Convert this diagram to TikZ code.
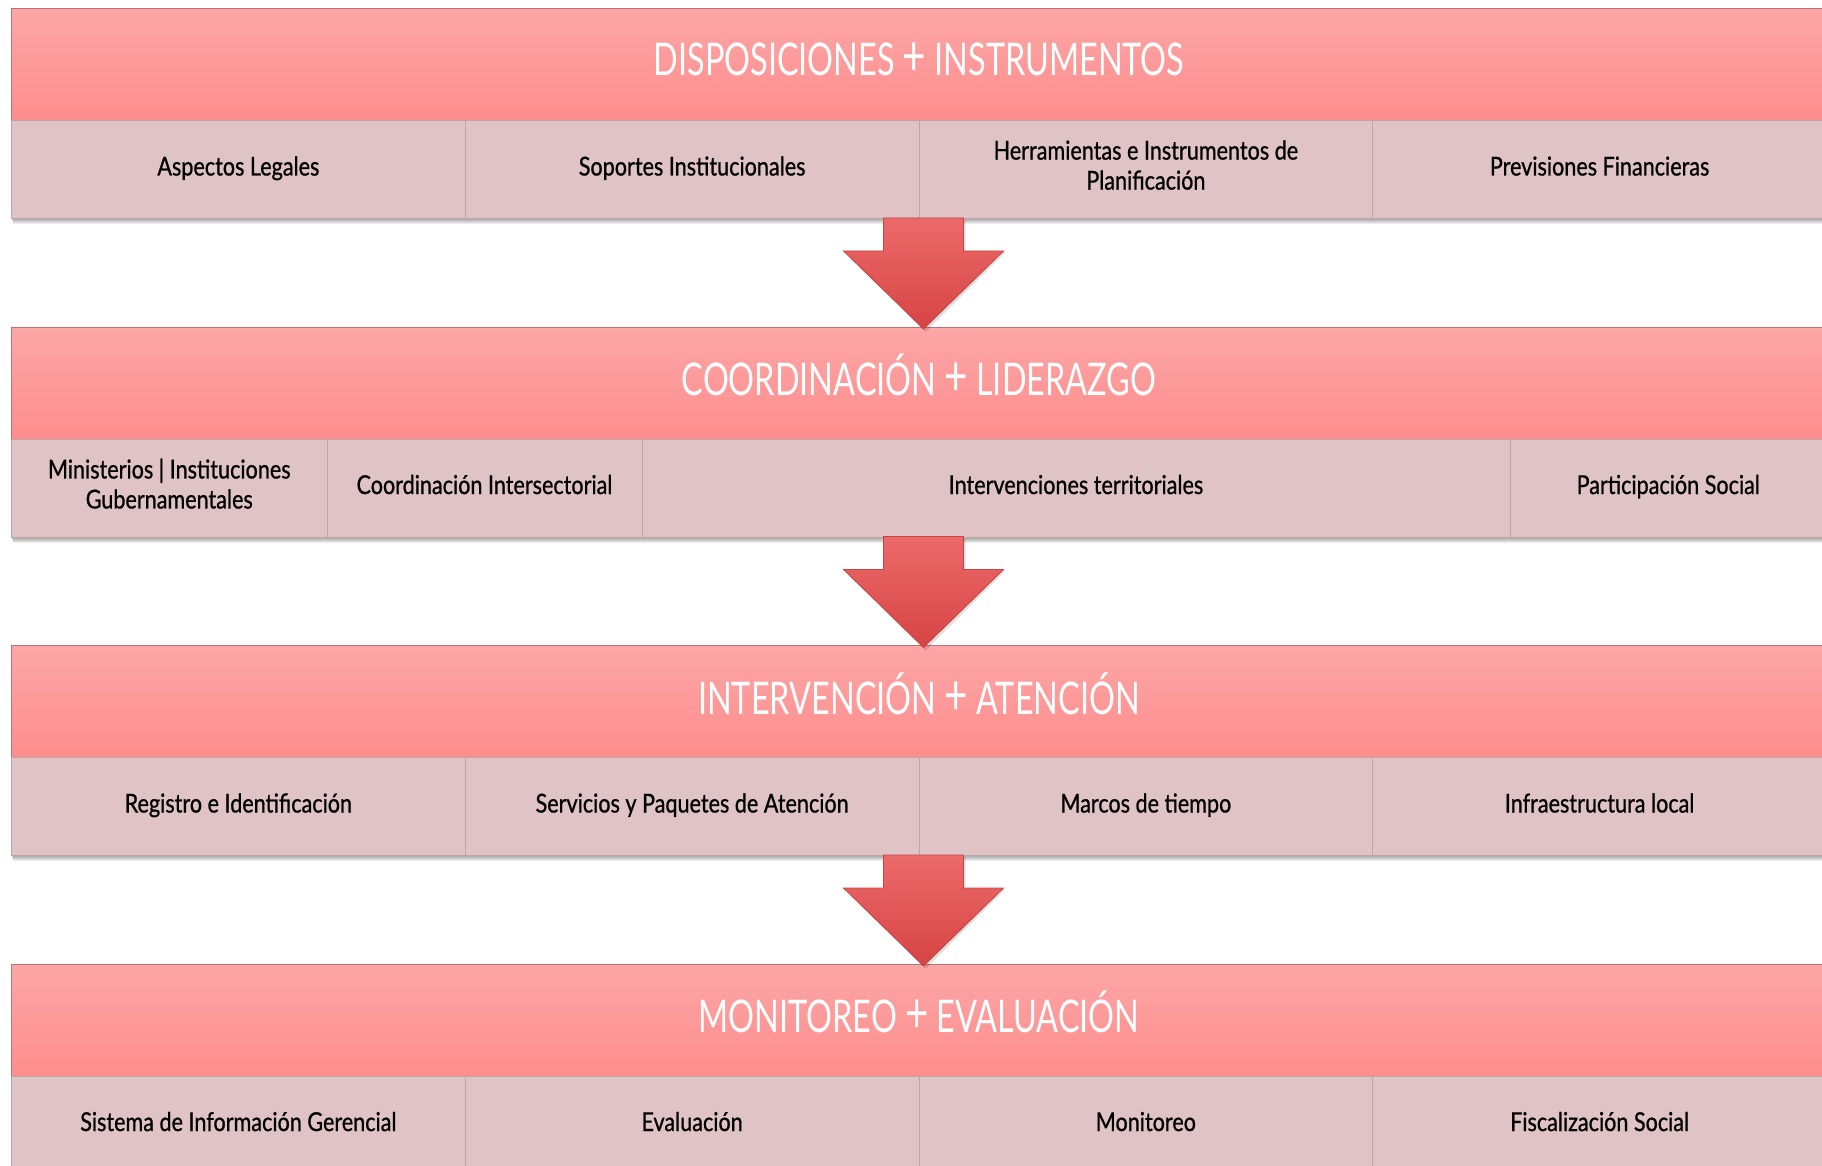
\documentclass[tikz,border=0pt]{standalone}
\usepackage{fontspec}
\setmainfont{Lato}
\newfontfamily\headfont{Lato}[FakeStretch=0.72]
\newfontfamily\subfont{Lato}[FakeStretch=0.83,FakeBold=0.8]
\usetikzlibrary{calc}
\definecolor{hdtop}{RGB}{252,166,166}
\definecolor{hdbot}{RGB}{255,141,141}
\definecolor{hdline}{RGB}{184,116,116}
\definecolor{subfill}{RGB}{224,196,197}
\definecolor{subline}{RGB}{190,166,166}
\definecolor{arrtop}{RGB}{236,106,106}
\definecolor{arrbot}{RGB}{214,68,68}
\definecolor{arrline}{RGB}{196,70,70}
\newcommand{\bigplus}{{\fontsize{56}{56}\selectfont+}}
\tikzset{
  hdbox/.style={rectangle, minimum width=1815pt, minimum height=112pt, inner sep=0pt,
    anchor=north west, top color=hdtop, bottom color=hdbot, draw=hdline, line width=1pt,
    text=white, font=\headfont\fontsize{45}{54}\selectfont,
    execute at begin node=\strut},
  subbox/.style={rectangle, minimum height=98pt, inner sep=0pt, anchor=north west,
    fill=subfill, draw=subline, line width=1pt, align=center, text=black,
    font=\subfont\fontsize{26}{30}\selectfont,
    execute at begin node=\strut, execute at end node=\strut},
  colA/.style={subbox, minimum width=453.75pt},
  blockarrow/.style={top color=arrtop, bottom color=arrbot, draw=arrline, line width=0.8pt, line join=miter},
  bandshade/.style={fill=black, opacity=0.07}
}
\begin{document}
\begin{tikzpicture}[x=1pt,y=-1pt]
\useasboundingbox (0,0) rectangle (1822,1166);
\clip (0,0) rectangle (1822,1166);
% shadows of the bands
\foreach \t in {8,326.5,645,963.5}{
  \foreach \d in {1,2,3,4,5,6}{
    \fill[bandshade] (11+\d*0.3,\t+\d*0.5) rectangle (1826,\t+210+\d);
  }
}
% Band 1
\node[hdbox] (h1) at (11,8) {DISPOSICIONES \bigplus{} INSTRUMENTOS};
\node[colA] (s11) at (11,120) {Aspectos Legales};
\node[colA] (s12) at (464.75,120) {Soportes Institucionales};
\node[colA] (s13) at (918.5,120) {Herramientas e Instrumentos de\\Planificación};
\node[colA] (s14) at (1372.25,120) {Previsiones Financieras};
% Band 2
\node[hdbox] (h2) at (11,326.5) {COORDINACIÓN \bigplus{} LIDERAZGO};
\node[subbox, minimum width=315.5pt] (s21) at (11,438.5) {Ministerios | Instituciones\\Gubernamentales};
\node[subbox, minimum width=315pt] (s22) at (326.5,438.5) {Coordinación Intersectorial};
\node[subbox, minimum width=868pt] (s23) at (641.5,438.5) {Intervenciones territoriales};
\node[subbox, minimum width=316.5pt] (s24) at (1509.5,438.5) {Participación Social};
% Band 3
\node[hdbox] (h3) at (11,645) {INTERVENCIÓN \bigplus{} ATENCIÓN};
\node[colA] (s31) at (11,757) {Registro e Identificación};
\node[colA] (s32) at (464.75,757) {Servicios y Paquetes de Atención};
\node[colA] (s33) at (918.5,757) {Marcos de tiempo};
\node[colA] (s34) at (1372.25,757) {Infraestructura local};
% Band 4
\node[hdbox] (h4) at (11,963.5) {MONITOREO \bigplus{} EVALUACIÓN};
\node[colA] (s41) at (11,1075.5) {Sistema de Información Gerencial};
\node[colA] (s42) at (464.75,1075.5) {Evaluación};
\node[colA] (s43) at (918.5,1075.5) {Monitoreo};
\node[colA] (s44) at (1372.25,1075.5) {Fiscalización Social};
% Arrows
\coordinate (a1) at ($(s13.south west)+(5,-1)$);
\coordinate (a2) at ($(s33.south west)+(5,-319.5)$);
\coordinate (a3) at ($(s33.south west)+(5,-1)$);
\foreach \a in {a1,a2,a3}{
  \fill[black, opacity=0.12] (\a) ++(-38,2) -- ++(0,32) -- ++(-40,0) -- ++(80,80) -- ++(80,-80) -- ++(-40,0) -- ++(0,-32) -- cycle;
  \draw[blockarrow] (\a) ++(-40,0) -- ++(0,33) -- ++(-40,0) -- ++(80,78) -- ++(80,-78) -- ++(-40,0) -- ++(0,-33) -- cycle;
}
\end{tikzpicture}
\end{document}
